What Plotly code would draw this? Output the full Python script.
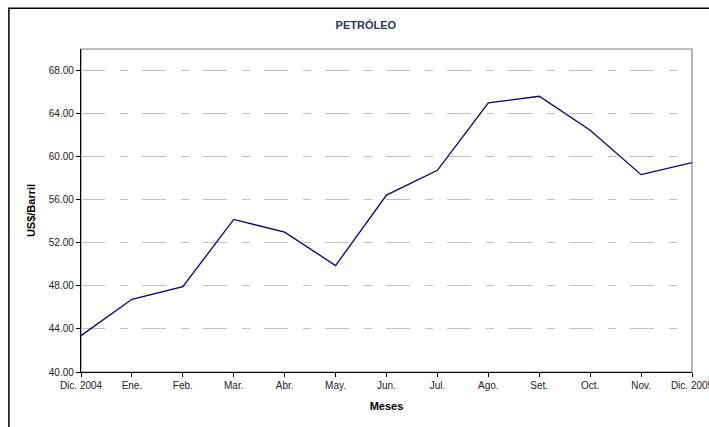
import plotly.graph_objects as go

meses = ["Dic. 2004", "Ene.", "Feb.", "Mar.", "Abr.", "May.", "Jun.",
         "Jul.", "Ago.", "Set.", "Oct.", "Nov.", "Dic. 2005"]
precio = [43.38, 46.75, 47.93, 54.17, 52.99, 49.89, 56.43,
          58.73, 64.99, 65.61, 62.45, 58.33, 59.44]
y_ticks = [40, 44, 48, 52, 56, 60, 64, 68]

font_family = "Liberation Sans, Arial, sans-serif"

fig = go.Figure()
fig.add_trace(go.Scatter(
    x=meses,
    y=precio,
    mode="lines",
    line=dict(color="#000080", width=1.3),
    hoverinfo="x+y",
))

# outer chart frame (extends past the right/bottom edge of the window)
fig.add_shape(type="rect", xref="paper", yref="paper",
              x0=-0.118, x1=1.06, y0=-0.25, y1=1.126,
              line=dict(color="black", width=1.5), layer="below")
# grey plot-area border on top/right
fig.add_shape(type="rect", xref="paper", yref="paper",
              x0=0, x1=1, y0=0, y1=1,
              line=dict(color="#808080", width=1.2), layer="below")

fig.update_layout(
    width=709, height=427,
    autosize=False,
    margin=dict(l=81, r=17, t=49, b=55),
    paper_bgcolor="white",
    plot_bgcolor="white",
    showlegend=False,
    font=dict(family=font_family, size=10, color="#222"),
    title=dict(text="<b>PETRÓLEO</b>", x=0.516, xref="container", xanchor="center",
               y=0.94, yref="container", yanchor="middle",
               font=dict(size=11, color="#1f3864", family=font_family)),
)

fig.update_xaxes(
    type="category",
    range=[0, len(meses) - 1],
    automargin=False,
    showgrid=False,
    showline=True, linecolor="black", linewidth=1.3,
    ticks="outside", ticklen=4, tickcolor="black",
    tickfont=dict(size=10, color="#222"),
    title=dict(text="<b>Meses</b>", font=dict(size=11, color="black"), standoff=12),
)

fig.update_yaxes(
    range=[40, 70],
    tickvals=y_ticks,
    tickformat=".2f",
    automargin=False,
    showgrid=True, gridcolor="#c0c0c0", gridwidth=1,
    griddash="24px,15px,8px,14px",
    zeroline=False,
    showline=True, linecolor="black", linewidth=1.3,
    ticks="outside", ticklen=4, tickcolor="black",
    tickfont=dict(size=10, color="#222"),
    title=dict(text="<b>US$/Barril</b>", font=dict(size=11, color="black"), standoff=10),
)

fig.write_html(
    "out.html",
    config={"responsive": False, "displayModeBar": False},
    post_script="document.body.style.margin='0';document.body.style.overflow='hidden';",
)
